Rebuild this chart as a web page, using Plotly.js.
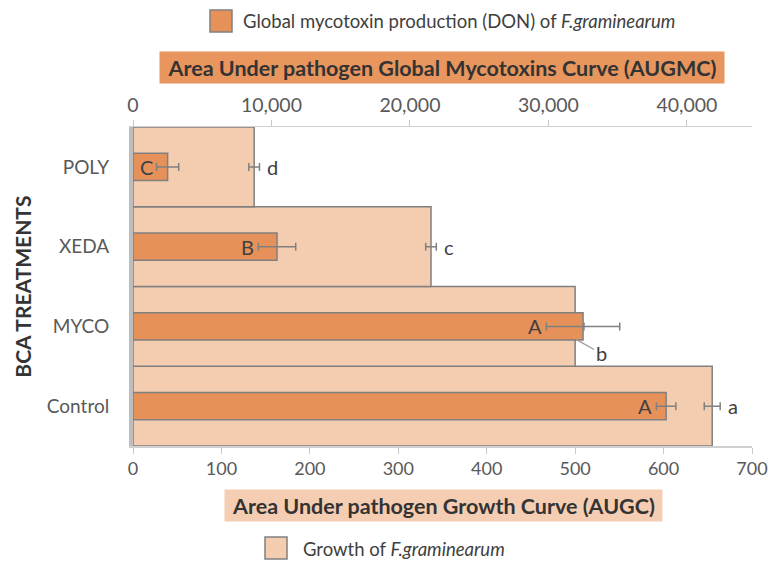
<!DOCTYPE html>
<html>
<head>
<meta charset="utf-8">
<script src="https://cdn.plot.ly/plotly-3.0.1.min.js"></script>
<style>html,body{margin:0;padding:0;background:#fff;}#chart{width:773px;height:563px;}</style>
</head>
<body>
<div id="chart"></div>
<script>
// ---- data ----
var categories = ['Control', 'MYCO', 'XEDA', 'POLY'];
var growth = [655, 500, 337, 137];            // AUGC (bottom axis)
var growthErr = [9, 10, 6, 6];
var growthLetters = ['a', 'b', 'c', 'd'];
var toxin = [38500, 32500, 10400, 2500];      // AUGMC (top axis)
var toxinErr = [700, 2650, 1350, 800];
var toxinLetters = ['A', 'A', 'B', 'C'];
var bottomTicks = [0, 100, 200, 300, 400, 500, 600, 700];
var topTicks = [0, 10000, 20000, 30000, 40000];
var growthName = 'Growth of <i>F.graminearum</i>';
var toxinName = 'Global mycotoxin production (DON) of <i>F.graminearum</i>';

var FONT = 'Lato, "Open Sans", sans-serif';
var peach = '#F4CCB0';
var orange = '#E6915A';
var edge = '#808080';
var letterFont = {family: FONT, size: 20, color: '#404040'};

var traces = [
  {
    type: 'bar', orientation: 'h', name: growthName,
    y: categories, x: growth, xaxis: 'x', yaxis: 'y', width: 1,
    marker: {color: peach, line: {color: edge, width: 1.5}},
    error_x: {type: 'data', array: growthErr, color: edge, thickness: 1.5, width: 4},
    showlegend: false, hoverinfo: 'x+y'
  },
  {
    type: 'bar', orientation: 'h', name: toxinName,
    y: categories, x: toxin, xaxis: 'x2', yaxis: 'y', width: 0.34,
    marker: {color: orange, line: {color: edge, width: 1.5}},
    error_x: {type: 'data', array: toxinErr, color: edge, thickness: 1.5, width: 4},
    showlegend: false, hoverinfo: 'x+y'
  }
];

var ann = [];
// significance letters
categories.forEach(function (c, i) {
  if (c === 'MYCO') {
    ann.push({xref: 'x', yref: 'y', x: growth[i] + 1, y: c, yshift: -13,
      text: growthLetters[i], showarrow: true, arrowhead: 0, arrowwidth: 1.2,
      arrowcolor: '#9a9a9a', ax: 25, ay: 14, standoff: 0, font: letterFont});
  } else {
    ann.push({xref: 'x', yref: 'y', x: growth[i] + growthErr[i], y: c,
      xanchor: 'left', xshift: 6, text: growthLetters[i], showarrow: false, font: letterFont});
  }
  ann.push({xref: 'x2', yref: 'y', x: toxin[i] - toxinErr[i], y: c,
    xanchor: 'right', xshift: -2, text: toxinLetters[i], showarrow: false, font: letterFont});
});

// axis titles with backgrounds
ann.push({xref: 'paper', yref: 'paper', x: 0.4985, y: 1.188, xanchor: 'center', yanchor: 'middle',
  text: '<b>Area Under pathogen Global Mycotoxins Curve (AUGMC)</b>', showarrow: false,
  bgcolor: '#E8955E', width: 558, height: 25, borderpad: 3,
  font: {family: FONT, size: 21.5, color: '#333333'}});
ann.push({xref: 'paper', yref: 'paper', x: 0.501, y: -0.185, xanchor: 'center', yanchor: 'middle',
  text: '<b>Area Under pathogen Growth Curve (AUGC)</b>', showarrow: false,
  bgcolor: '#F5CDB2', width: 431, height: 25, borderpad: 3,
  font: {family: FONT, size: 21.5, color: '#333333'}});
ann.push({xref: 'paper', yref: 'paper', x: -0.179, y: 0.5, xanchor: 'center', yanchor: 'middle',
  text: '<b>BCA TREATMENTS</b>', textangle: -90, showarrow: false,
  font: {family: FONT, size: 21, color: '#333333'}});

// legends
function px2x(p) { return (p - 133) / 619; }
function py2y(p) { return (446 - p) / 319; }
ann.push({xref: 'paper', yref: 'paper', x: px2x(241), y: py2y(21), xanchor: 'left', yanchor: 'middle',
  text: toxinName, showarrow: false, font: {family: FONT, size: 18.5, color: '#404040'}});
ann.push({xref: 'paper', yref: 'paper', x: px2x(301), y: py2y(549), xanchor: 'left', yanchor: 'middle',
  text: growthName, showarrow: false, font: {family: FONT, size: 18.5, color: '#404040'}});

var shapes = [
  {type: 'rect', xref: 'paper', yref: 'paper', x0: px2x(210), x1: px2x(232), y0: py2y(32), y1: py2y(10),
    fillcolor: orange, line: {color: edge, width: 1.5}},
  {type: 'rect', xref: 'paper', yref: 'paper', x0: px2x(265), x1: px2x(287), y0: py2y(559), y1: py2y(537),
    fillcolor: peach, line: {color: edge, width: 1.5}}
];

var layout = {
  width: 773, height: 563,
  margin: {l: 133, r: 21, t: 127, b: 117, pad: 0},
  paper_bgcolor: '#fff', plot_bgcolor: 'rgba(0,0,0,0)',
  font: {family: FONT, size: 17, color: '#595959'},
  showlegend: false,
  xaxis: {
    range: [0, 700], tickvals: bottomTicks, ticks: 'outside', ticklen: 6, tickcolor: '#C8C8C8',
    showline: true, linecolor: '#D0D0D0', linewidth: 1.5, showgrid: false, zeroline: false,
    tickfont: {family: FONT, size: 18, color: '#595959'}, fixedrange: true
  },
  xaxis2: {
    range: [0, 44700], tickvals: topTicks, tickformat: ',.0f', side: 'top', overlaying: 'x',
    anchor: 'y', ticks: 'outside', ticklen: 6, tickcolor: '#C8C8C8',
    showline: true, linecolor: '#D0D0D0', linewidth: 1.5, showgrid: false, zeroline: false,
    tickfont: {family: FONT, size: 19.5, color: '#595959'}, fixedrange: true
  },
  yaxis: {
    type: 'category', categoryorder: 'array', categoryarray: categories, range: [-0.5, 3.5],
    showline: true, linecolor: '#BDBDBD', linewidth: 4, ticks: '', showgrid: false, zeroline: false,
    ticklabelstandoff: 16,
    tickfont: {family: FONT, size: 19, color: '#595959'}, fixedrange: true
  },
  annotations: ann,
  shapes: shapes
};

Plotly.newPlot('chart', traces, layout, {displayModeBar: false, staticPlot: true});
</script>
</body>
</html>
